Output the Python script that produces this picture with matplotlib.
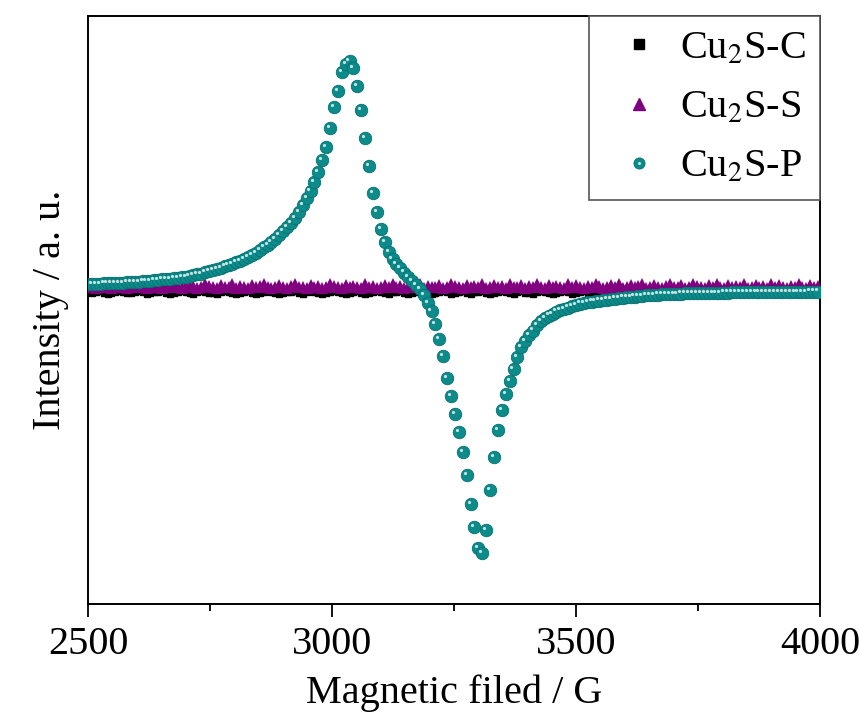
import numpy as np
import matplotlib
matplotlib.use('Agg')
import matplotlib.pyplot as plt
from matplotlib.lines import Line2D
from matplotlib.transforms import offset_copy

plt.rcParams['font.family'] = ['Liberation Serif', 'DejaVu Serif']
plt.rcParams['mathtext.fontset'] = 'stix'

# magnetic field sampling (G)
field = np.arange(2500, 4000, 8)

# Cu2S-C : flat, hidden under the purple band
cu2s_c = [
    -0.04, -0.05, -0.04, -0.03, -0.05, -0.06, -0.05, -0.04, -0.03, -0.04, -0.05, -0.05, -0.04, -0.03, -0.04, -0.06, -0.05, -0.04, -0.04, -0.03,
    -0.05, -0.06, -0.05, -0.04, -0.03, -0.04, -0.05, -0.06, -0.04, -0.03, -0.04, -0.05, -0.05, -0.06, -0.04, -0.03, -0.04, -0.05, -0.06, -0.05,
    -0.04, -0.03, -0.05, -0.06, -0.05, -0.04, -0.03, -0.04, -0.05, -0.06, -0.05, -0.04, -0.04, -0.03, -0.05, -0.06, -0.04, -0.03, -0.04, -0.05,
    -0.06, -0.05, -0.04, -0.03, -0.04, -0.05, -0.06, -0.05, -0.04, -0.03, -0.05, -0.06, -0.05, -0.04, -0.03, -0.04, -0.05, -0.06, -0.04, -0.04,
    -0.03, -0.05, -0.06, -0.05, -0.04, -0.03, -0.04, -0.05, -0.06, -0.05, -0.04, -0.03, -0.04, -0.06, -0.05, -0.04, -0.03, -0.05, -0.06, -0.04,
    -0.04, -0.03, -0.05, -0.06, -0.05, -0.04, -0.03, -0.04, -0.05, -0.06, -0.04, -0.03, -0.05, -0.05, -0.06, -0.04, -0.03, -0.04, -0.05, -0.06,
    -0.05, -0.04, -0.03, -0.04, -0.06, -0.05, -0.04, -0.03, -0.05, -0.06, -0.05, -0.04, -0.03, -0.04, -0.05, -0.06, -0.04, -0.03, -0.05, -0.05,
    -0.06, -0.04, -0.03, -0.04, -0.05, -0.06, -0.05, -0.04, -0.03, -0.05, -0.06, -0.04, -0.04, -0.03, -0.05, -0.06, -0.05, -0.04, -0.03, -0.04,
    -0.05, -0.06, -0.05, -0.04, -0.03, -0.04, -0.05, -0.06, -0.04, -0.03, -0.05, -0.06, -0.05, -0.04, -0.03, -0.04, -0.05, -0.06, -0.04, -0.03,
    -0.05, -0.06, -0.05, -0.04, -0.03, -0.04, -0.05, -0.05,
]

# Cu2S-S : flat noisy band
cu2s_s = [
    0.01, 0.03, 0.00, 0.01, 0.04, 0.01, 0.00, 0.03, 0.01, 0.02, 0.00, 0.01, 0.03, 0.01, 0.04, 0.00, 0.01, 0.03, 0.01, 0.00,
    0.02, 0.01, 0.04, 0.01, 0.00, 0.03, 0.01, 0.02, 0.00, 0.01, 0.04, 0.02, 0.01, 0.00, 0.03, 0.01, 0.01, 0.04, 0.00, 0.02,
    0.01, 0.00, 0.03, 0.01, 0.02, 0.04, 0.01, 0.00, 0.01, 0.03, 0.01, 0.00, 0.02, 0.04, 0.01, 0.01, 0.00, 0.03, 0.01, 0.02,
    0.00, 0.01, 0.04, 0.02, 0.01, 0.00, 0.03, 0.01, 0.02, 0.01, 0.00, 0.04, 0.01, 0.02, 0.00, 0.01, 0.03, 0.01, 0.04, 0.01,
    0.02, 0.00, 0.01, 0.03, 0.01, 0.04, 0.00, 0.02, 0.01, 0.01, 0.03, 0.00, 0.01, 0.04, 0.02, 0.01, 0.00, 0.03, 0.01, 0.02,
    0.01, 0.04, 0.00, 0.01, 0.03, 0.01, 0.02, 0.00, 0.04, 0.01, 0.01, 0.03, 0.00, 0.02, 0.01, 0.04, 0.01, 0.00, 0.03, 0.01,
    0.02, 0.01, 0.00, 0.04, 0.01, 0.03, 0.01, 0.00, 0.02, 0.01, 0.04, 0.02, 0.00, 0.01, 0.03, 0.01, 0.04, 0.00, 0.01, 0.03,
    0.01, 0.02, 0.04, 0.00, 0.01, 0.03, 0.01, 0.00, 0.02, 0.04, 0.01, 0.01, 0.03, 0.00, 0.01, 0.04, 0.02, 0.01, 0.00, 0.03,
    0.01, 0.04, 0.01, 0.00, 0.03, 0.01, 0.02, 0.01, 0.04, 0.00, 0.01, 0.03, 0.01, 0.02, 0.00, 0.04, 0.01, 0.03, 0.01, 0.00,
    0.02, 0.01, 0.04, 0.01, 0.00, 0.03, 0.01, 0.02,
]

# Cu2S-P : derivative EPR signal
cu2s_p = [
    0.04, 0.04, 0.04, 0.04, 0.05, 0.05, 0.05, 0.05, 0.05, 0.05,
    0.06, 0.06, 0.06, 0.06, 0.07, 0.07, 0.07, 0.08, 0.08, 0.09,
    0.09, 0.09, 0.10, 0.10, 0.11, 0.11, 0.12, 0.13, 0.14, 0.14,
    0.16, 0.17, 0.18, 0.19, 0.20, 0.22, 0.23, 0.24, 0.26, 0.27,
    0.29, 0.31, 0.33, 0.35, 0.38, 0.41, 0.43, 0.46, 0.49, 0.53,
    0.57, 0.61, 0.65, 0.70, 0.76, 0.83, 0.90, 0.97, 1.06, 1.16,
    1.28, 1.41, 1.60, 1.81, 1.97, 2.16, 2.24, 2.27, 2.20, 2.02,
    1.78, 1.50, 1.22, 0.95, 0.76, 0.59, 0.46, 0.36, 0.29, 0.24,
    0.20, 0.155, 0.11, 0.07, 0.03, -0.01, -0.07, -0.15, -0.23, -0.36,
    -0.51, -0.68, -0.90, -1.08, -1.26, -1.44, -1.64, -1.87, -2.16, -2.39,
    -2.60, -2.65, -2.42, -2.02, -1.69, -1.42, -1.22, -1.06, -0.93, -0.81,
    -0.69, -0.59, -0.53, -0.47, -0.425, -0.37, -0.33, -0.30, -0.275, -0.26,
    -0.235, -0.22, -0.21, -0.195, -0.18, -0.17, -0.155, -0.15, -0.14, -0.135,
    -0.13, -0.125, -0.12, -0.115, -0.11, -0.105, -0.10, -0.095, -0.09, -0.09,
    -0.085, -0.08, -0.077, -0.073, -0.07, -0.068, -0.065, -0.063, -0.06, -0.06,
    -0.058, -0.057, -0.055, -0.054, -0.052, -0.05, -0.05, -0.05, -0.049, -0.048,
    -0.047, -0.046, -0.046, -0.045, -0.045, -0.044, -0.044, -0.043, -0.043, -0.042,
    -0.042, -0.041, -0.041, -0.040, -0.040, -0.040, -0.039, -0.039, -0.038, -0.038,
    -0.038, -0.037, -0.037, -0.036, -0.036, -0.035, -0.035, -0.035,
]

labels = ['Cu$_2$S-C', 'Cu$_2$S-S', 'Cu$_2$S-P']

teal = '#0c8b8b'
purple = '#800080'

fig = plt.figure(figsize=(8.59, 7.18), dpi=100)
ax = fig.add_axes([88 / 859, 1 - 604 / 718, (820 - 88) / 859, (604 - 16) / 718])

ax.plot(field, cu2s_c, ls='none', marker='s', ms=4.5, color='black', zorder=2)
ax.plot(field, cu2s_s, ls='none', marker='^', ms=8, color=purple, mew=0, zorder=3)
ax.plot(field, cu2s_p, ls='none', marker='o', ms=9, color=teal,
        mec='#087070', mew=0.6, zorder=4)
# little glossy highlight on the spheres
shine = offset_copy(ax.transData, fig=fig, x=-1.5, y=1.5, units='points')
ax.plot(field, cu2s_p, ls='none', marker='o', ms=2.3, color='#e6f4f4', alpha=0.85,
        mew=0, transform=shine, zorder=5)

ax.set_xlim(2500, 4000)
ax.set_ylim(-3.16, 2.72)
ax.set_xticks([2500, 3000, 3500, 4000])
ax.set_xticks([2750, 3250, 3750], minor=True)
ax.set_yticks([])
ax.tick_params(axis='x', which='major', direction='out', length=9, width=1.3,
               labelsize=29, pad=7, top=False)
ax.tick_params(axis='x', which='minor', direction='out', length=5, width=1.3, top=False)
for s in ax.spines.values():
    s.set_linewidth(1.4)

ax.set_xlabel('Magnetic filed / G', fontsize=29, labelpad=8)
ax.set_ylabel('Intensity / a. u.', fontsize=29, labelpad=14)

h_c = Line2D([], [], ls='none', marker='s', ms=7, color='black')
h_s = Line2D([], [], ls='none', marker='^', ms=9, color=purple)
h_p = Line2D([], [], ls='none', marker='o', ms=8, color=teal, mec='#087070', mew=0.6)
h_p2 = Line2D([], [], ls='none', marker='o', ms=2.2, color='#e6f4f4', alpha=0.85, mew=0)
leg = ax.legend([h_c, h_s, (h_p, h_p2)], labels, loc='upper right', fontsize=29,
                frameon=True, fancybox=False, framealpha=1, edgecolor='#555555',
                borderaxespad=0.0, handlelength=1.8, handletextpad=0.12,
                labelspacing=0.55, borderpad=0.35)
leg.get_frame().set_linewidth(1.2)

fig.savefig('out.png', dpi=100)
